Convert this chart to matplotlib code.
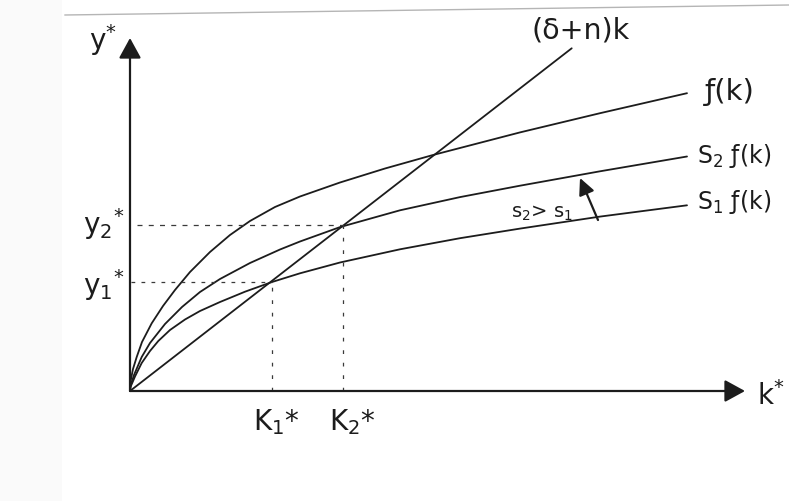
import matplotlib
matplotlib.use("Agg")
import matplotlib.pyplot as plt
from matplotlib.lines import Line2D
from matplotlib.patches import Rectangle

plt.rcParams['font.family'] = ['DejaVu Sans']
plt.rcParams['mathtext.fontset'] = 'dejavusans'

# Solow growth diagram: capital per worker k, output per worker y
k_f = [0, 0.08, 0.3, 0.67, 1.2, 2.17, 3.3, 4.5, 6.0, 8.0, 10.0, 12.0, 14.5, 17.0,
       21.0, 25.5, 30.3, 39.0, 47.0, 55.7]
y_f = [0, 1.1, 2.2, 3.4, 4.9, 6.77, 8.5, 10.1, 11.9, 13.9, 15.6, 17.0, 18.4, 19.45,
       20.85, 22.25, 23.6, 25.86, 27.78, 29.78]

k_s2f = [0, 0.05, 0.4, 1.17, 2.0, 3.5, 5.2, 7.0, 9.0, 12.0, 15.0, 17.0, 21.0, 27.0,
         33.0, 39.0, 47.0, 55.7]
y_s2f = [0, 0.5, 1.6, 3.4, 4.8, 6.7, 8.4, 9.9, 11.2, 12.8, 14.15, 14.95, 16.39, 18.07,
         19.39, 20.53, 21.97, 23.45]

k_s1f = [0, 0.05, 0.5, 1.17, 2.0, 2.83, 4.0, 5.5, 7.0, 9.0, 11.5, 14.17, 17.0, 21.0,
         27.0, 33.0, 39.0, 47.0, 55.7]
y_s1f = [0, 0.4, 1.45, 2.8, 4.0, 5.0, 6.1, 7.15, 8.0, 8.9, 9.93, 10.89, 11.77, 12.85,
         14.17, 15.28, 16.24, 17.44, 18.57]

k_dep = [0, 44.17]
y_dep = [0, 34.27]

k1_star, y1_star = 14.2, 10.9
k2_star, y2_star = 21.3, 16.6

ink = '#1c1c1c'

fig = plt.figure(figsize=(7.89, 5.01), dpi=100)
ax = fig.add_axes([0, 0, 1, 1])
ax.set_xlim(-13.0, 65.9)
ax.set_ylim(-11.0, 39.1)
ax.axis('off')

# faint page edge and margin of the scanned sheet
fig.add_artist(Rectangle((0, 0), 62 / 789, 1, transform=fig.transFigure,
                         facecolor='#fafafa', edgecolor='none', zorder=0))
fig.add_artist(Line2D([65 / 789, 1.0], [1 - 15 / 501, 1 - 5 / 501],
                      transform=fig.transFigure, color='#b5b5b5', lw=1.0))

# axes with filled arrow heads
axis_style = dict(arrowstyle='-|>,head_length=0.62,head_width=0.34',
                  mutation_scale=20, lw=1.6, color=ink, shrinkA=0, shrinkB=0)
ax.annotate('', xy=(0, 35.3), xytext=(0, 0), arrowprops=axis_style)
ax.annotate('', xy=(61.5, 0), xytext=(0, 0), arrowprops=axis_style)

# curves
curve_kw = dict(color=ink, lw=1.3, solid_capstyle='round', solid_joinstyle='round')
ax.plot(k_f, y_f, **curve_kw)
ax.plot(k_s2f, y_s2f, **curve_kw)
ax.plot(k_s1f, y_s1f, **curve_kw)
ax.plot(k_dep, y_dep, **curve_kw)

# steady-state guides
dash_kw = dict(color='#3a3a3a', lw=0.9)
ax.plot([0.7, k2_star], [y2_star, y2_star], linestyle=(0, (4, 5)), **dash_kw)
ax.plot([0.1, k1_star], [y1_star, y1_star], linestyle=(0, (3, 5)), **dash_kw)
ax.plot([k1_star, k1_star], [0, y1_star], linestyle=(0, (3, 7)), **dash_kw)
ax.plot([k2_star, k2_star], [0, y2_star], linestyle=(0, (3, 7)), **dash_kw)

# rise in the saving rate
ax.annotate('', xy=(45.0, 21.3), xytext=(46.8, 17.1),
            arrowprops=dict(arrowstyle='-|>,head_length=0.5,head_width=0.24',
                            mutation_scale=20, lw=1.6, color=ink,
                            shrinkA=0, shrinkB=0))

# labels
ax.text(40.2, 36.0, '(δ+n)k', fontsize=20.5, color=ink, ha='left', va='center')
ax.text(57.5, 29.9, 'ƒ(k)', fontsize=21, color=ink, ha='left', va='center')
ax.text(56.7, 23.5, r'S$_2$ ƒ(k)', fontsize=17, color=ink, ha='left', va='center')
ax.text(56.7, 18.9, r'S$_1$ ƒ(k)', fontsize=17, color=ink, ha='left', va='center')
ax.text(38.1, 17.8, r's$_2$> s$_1$', fontsize=14, color=ink, ha='left', va='center')

ax.text(-1.3, 34.1, r'$\mathrm{y}^{*}$', fontsize=20, color=ink, ha='right', va='baseline')
ax.text(-0.6, 15.7, r'$\mathrm{y}_{2}{}^{*}$', fontsize=20, color=ink, ha='right', va='baseline')
ax.text(-0.6, 9.6, r'$\mathrm{y}_{1}{}^{*}$', fontsize=20, color=ink, ha='right', va='baseline')
ax.text(14.65, -3.9, r'$\mathrm{K}_{1}$*', fontsize=20, color=ink, ha='center', va='baseline')
ax.text(22.25, -3.9, r'$\mathrm{K}_{2}$*', fontsize=20, color=ink, ha='center', va='baseline')
ax.text(62.7, -1.4, r'$\mathrm{k}^{*}$', fontsize=20, color=ink, ha='left', va='baseline')

fig.savefig('out.png', dpi=100)
